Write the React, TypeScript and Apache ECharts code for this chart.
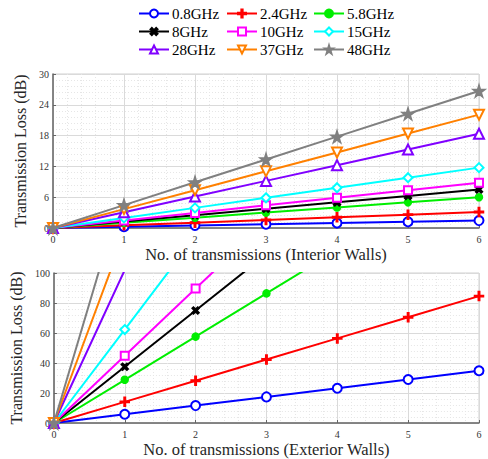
import React, { useEffect, useRef } from "react";
import * as echarts from "echarts";

const xCats = [0, 1, 2, 3, 4, 5, 6];
const names = ["0.8GHz", "2.4GHz", "5.8GHz", "8GHz", "10GHz", "15GHz", "28GHz", "37GHz", "48GHz"];
const colors = ["#0000ff", "#ff0000", "#00ee00", "#000000", "#ff00ff", "#00ffff", "#8000ff", "#ff8000", "#808080"];

const interior08 = [0, 0.24, 0.48, 0.72, 0.96, 1.2, 1.44];
const interior24 = [0, 0.52, 1.04, 1.56, 2.08, 2.6, 3.12];
const interior58 = [0, 1.0, 2.0, 3.0, 4.0, 5.0, 6.0];
const interior8 = [0, 1.25, 2.5, 3.75, 5.0, 6.25, 7.5];
const interior10 = [0, 1.47, 2.94, 4.41, 5.88, 7.35, 8.82];
const interior15 = [0, 1.96, 3.92, 5.88, 7.84, 9.8, 11.76];
const interior28 = [0, 3.06, 6.12, 9.18, 12.24, 15.3, 18.36];
const interior37 = [0, 3.68, 7.36, 11.04, 14.72, 18.4, 22.08];
const interior48 = [0, 4.45, 8.9, 13.35, 17.8, 22.25, 26.7];

const exterior08 = [0, 5.8, 11.6, 17.4, 23.2, 29.0, 34.8];
const exterior24 = [0, 14.1, 28.2, 42.3, 56.4, 70.5, 84.6];
const exterior58 = [0, 28.8, 57.6, 86.4, 115.2, 144.0, 172.8];
const exterior8 = [0, 37.5, 75.0, 112.5, 150.0, 187.5, 225.0];
const exterior10 = [0, 44.8, 89.6, 134.4, 179.2, 224.0, 268.8];
const exterior15 = [0, 62.3, 124.6, 186.9, 249.2, 311.5, 373.8];
const exterior28 = [0, 102, 204, 306, 408, 510, 612];
const exterior37 = [0, 127, 254, 381, 508, 635, 762];
const exterior48 = [0, 159, 318, 477, 636, 795, 954];

const interior = [interior08, interior24, interior58, interior8, interior10, interior15, interior28, interior37, interior48];
const exterior = [exterior08, exterior24, exterior58, exterior8, exterior10, exterior15, exterior28, exterior37, exterior48];

const PLUS = "path://M4.2,0H5.8V4.2H10V5.8H5.8V10H4.2V5.8H0V4.2H4.2Z";
const XMARK = "path://M3.8,0H6.2V3.8H10V6.2H6.2V10H3.8V6.2H0V3.8H3.8Z";
const STAR = "path://M50,0L61,35H98L68,57L79,91L50,70L21,91L32,57L2,35H39Z";
const symbols = ["emptyCircle", PLUS, "circle", XMARK, "emptyRect", "emptyDiamond", "emptyTriangle", "emptyTriangle", STAR];
const rotates = [0, 0, 0, 45, 0, 0, 0, 180, 0];
const sizes = [9, 9, 7, 8, 8, 9, 10, 10, 12];

const FONT = "Liberation Serif";

export default function App() {
  const ref = useRef<HTMLDivElement>(null);
  useEffect(() => {
    if (!ref.current) return;
    const chart = echarts.init(ref.current, undefined, { renderer: "svg" });
    const xAxisBase = (gridIndex: number, name: string) => ({
      type: "value",
      gridIndex,
      min: 0,
      max: 6,
      interval: 1,
      name,
      nameLocation: "middle",
      nameGap: 18,
      nameTextStyle: { fontFamily: FONT, fontSize: 16.5, color: "#262626" },
      axisLine: { show: true, onZero: false, lineStyle: { color: "#666", width: 1.5 } },
      axisTick: { show: true, inside: true, length: 3, lineStyle: { color: "#666" } },
      axisLabel: { fontFamily: FONT, fontSize: 10, color: "#333", margin: 6 },
      splitLine: { show: true, lineStyle: { color: "#dadada", width: 1 } },
      minorTick: { show: false, splitNumber: 5 },
      minorSplitLine: { show: true, lineStyle: { color: "#e6e6e6", type: [1, 2], width: 1 } },
    });
    const yAxisBase = (gridIndex: number, max: number, interval: number) => ({
      type: "value",
      gridIndex,
      min: 0,
      max,
      interval,
      name: "Transmission Loss (dB)",
      nameLocation: "middle",
      nameGap: 17,
      nameTextStyle: { fontFamily: FONT, fontSize: 16, color: "#262626" },
      axisLine: { show: true, lineStyle: { color: "#666", width: 1.5 } },
      axisTick: { show: true, inside: true, length: 3, lineStyle: { color: "#666" } },
      axisLabel: { fontFamily: FONT, fontSize: 10, color: "#333", margin: 4 },
      splitLine: { show: true, lineStyle: { color: "#dadada", width: 1 } },
      minorTick: { show: false, splitNumber: 5 },
      minorSplitLine: { show: true, lineStyle: { color: "#e6e6e6", type: [1, 2], width: 1 } },
    });
    const mkSeries = (data: number[][], idx: number) =>
      data.map((vals, i) => ({
        name: names[i],
        type: "line",
        xAxisIndex: idx,
        yAxisIndex: idx,
        data: vals.map((v, j) => [xCats[j], v]),
        symbol: symbols[i],
        symbolSize: sizes[i],
        symbolRotate: rotates[i],
        showAllSymbol: true,
        clip: true,
        color: colors[i],
        lineStyle: { width: 2, color: colors[i] },
        itemStyle: { color: colors[i], borderColor: colors[i], borderWidth: 1.5 },
      }));
    const legendCol = (left: number, items: string[]) => ({
      orient: "vertical",
      left,
      top: 0,
      itemWidth: 30,
      itemHeight: 10,
      itemGap: 1,
      textStyle: { fontFamily: FONT, fontSize: 15, lineHeight: 17, color: "#000", padding: [0, 0, 0, -2] },
      data: items,
    });
    chart.setOption({
      animation: false,
      backgroundColor: "#fff",
      legend: [
        legendCol(133, [names[0], names[3], names[6]]),
        legendCol(221, [names[1], names[4], names[7]]),
        legendCol(308, [names[2], names[5], names[8]]),
      ],
      grid: [
        { left: 53, right: 9, top: 74, height: 154, show: true, borderColor: "#d0d0d0", borderWidth: 1 },
        { left: 53, right: 9, top: 273, height: 154, show: true, borderColor: "#d0d0d0", borderWidth: 1 },
      ],
      xAxis: [
        xAxisBase(0, "No. of transmissions (Interior Walls)"),
        xAxisBase(1, "No. of transmissions (Exterior Walls)"),
      ],
      yAxis: [yAxisBase(0, 30, 6), yAxisBase(1, 100, 20)],
      series: [...mkSeries(interior, 0), ...mkSeries(exterior, 1)],
    });
    return () => chart.dispose();
  }, []);
  return (
    <div
      ref={ref}
      style={{ position: "fixed", left: 0, top: 0, width: 488, height: 459 }}
    />
  );
}
